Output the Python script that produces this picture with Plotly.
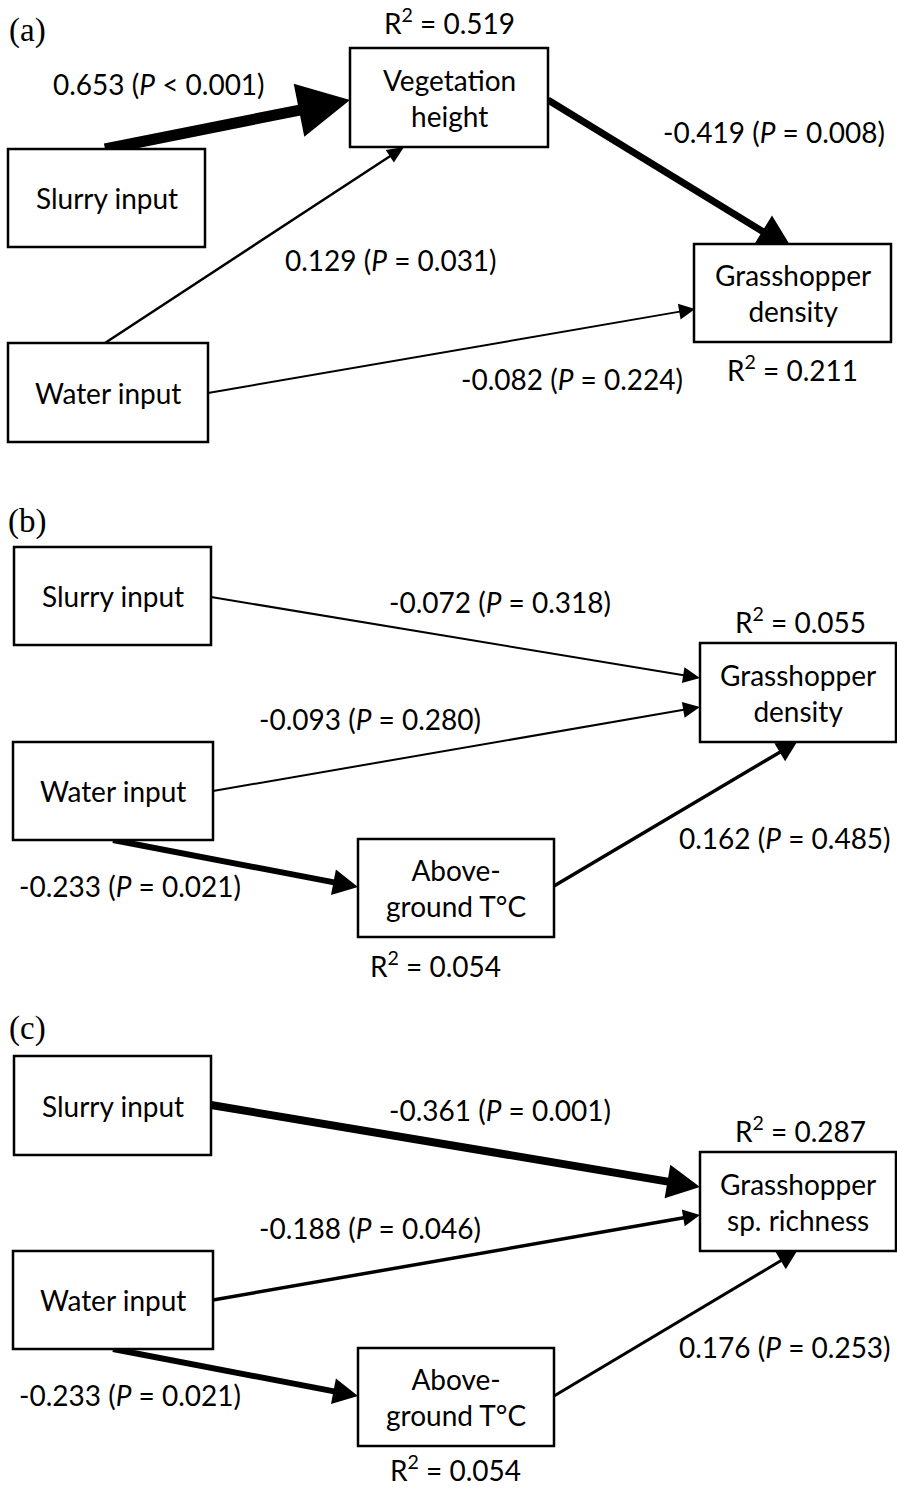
import plotly.graph_objects as go
import numpy as np

W, H = 897, 1489
FONT = "Lato"
FS = 28

# ---------------- data ----------------
panel_tags = ["(a)", "(b)", "(c)"]

# panel (a)
a_nodes = ["Slurry input", "Water input", "Vegetation<br>height", "Grasshopper<br>density"]
a_r2 = [None, None, 0.519, 0.211]
a_src = [0, 1, 2, 1]
a_dst = [2, 2, 3, 3]
a_coef = [0.653, 0.129, -0.419, -0.082]
a_pval = ["< 0.001", "= 0.031", "= 0.008", "= 0.224"]

# panel (b)
b_nodes = ["Slurry input", "Water input", "Grasshopper<br>density", "Above-<br>ground T°C"]
b_r2 = [None, None, 0.055, 0.054]
b_src = [0, 1, 1, 3]
b_dst = [2, 2, 3, 2]
b_coef = [-0.072, -0.093, -0.233, 0.162]
b_pval = ["= 0.318", "= 0.280", "= 0.021", "= 0.485"]

# panel (c)
c_nodes = ["Slurry input", "Water input", "Grasshopper<br>sp. richness", "Above-<br>ground T°C"]
c_r2 = [None, None, 0.287, 0.054]
c_src = [0, 1, 1, 3]
c_dst = [2, 2, 3, 2]
c_coef = [-0.361, -0.188, -0.233, 0.176]
c_pval = ["= 0.001", "= 0.046", "= 0.021", "= 0.253"]

# ---------------- layout (pixel positions, styles) ----------------
tag_pos = [(27, 30), (27, 521), (27, 1028)]

# boxes: x0, x1, y0, y1
a_box = [(8, 205, 149, 247), (8, 208, 343, 442), (350, 548, 48, 147), (694, 891, 244, 342)]
b_box = [(14, 211, 547, 645), (13, 213, 742, 840), (700, 896, 643, 742), (358, 554, 839, 937)]
c_box = [(14, 211, 1056, 1155), (13, 213, 1251, 1349), (700, 896, 1152, 1251), (358, 554, 1348, 1446)]

# arrow geometry: start, end, shaft width, head length, head width
a_arrow = [((105, 149), (350, 100), 11, 52, 54),
           ((105, 343), (404, 147), 2.5, 17, 15),
           ((548, 100), (793, 250), 7, 36, 37),
           ((208, 393), (695, 309), 2, 16, 16)]
b_arrow = [((211, 597), (700, 678), 2, 17, 16),
           ((213, 791), (700, 707), 2, 17, 16),
           ((113, 840), (358, 887), 6, 25, 26),
           ((554, 886), (797, 742), 3.5, 20, 21)]
c_arrow = [((211, 1105), (700, 1187), 8, 33, 34),
           ((213, 1300), (700, 1215), 3.5, 17, 17),
           ((113, 1349), (358, 1396), 6, 25, 26),
           ((554, 1396), (797, 1251), 3, 19, 20)]

# coefficient label centres
a_lab = [(159, 84), (391, 260), (774, 132), (572, 379)]
b_lab = [(500, 602), (370, 719), (130, 886), (785, 838)]
c_lab = [(500, 1110), (370, 1228), (130, 1395), (785, 1347)]

# R2 label centres (per node, None if no label)
a_r2pos = [None, None, (449, 21), (792, 368)]
b_r2pos = [None, None, (800, 620), (435, 964)]
c_r2pos = [None, None, (800, 1129), (455, 1468)]

panels = [
    (a_nodes, a_r2, a_src, a_dst, a_coef, a_pval, a_box, a_arrow, a_lab, a_r2pos),
    (b_nodes, b_r2, b_src, b_dst, b_coef, b_pval, b_box, b_arrow, b_lab, b_r2pos),
    (c_nodes, c_r2, c_src, c_dst, c_coef, c_pval, c_box, c_arrow, c_lab, c_r2pos),
]

shapes = []
annotations = []


def txt(x, y, s, size=FS, family=FONT):
    annotations.append(dict(x=x, y=y, xref="x", yref="y", text=s, showarrow=False,
                            xanchor="center", yanchor="middle",
                            font=dict(family=family, size=size, color="black")))


for (nodes, r2, src, dst, coef, pval, box, arrow, lab, r2pos), tag, tp in zip(panels, panel_tags, tag_pos):
    # arrows
    for k, (p0, p1, w, hl, hw) in enumerate(arrow):
        p0 = np.array(p0, float)
        p1 = np.array(p1, float)
        u = (p1 - p0) / np.linalg.norm(p1 - p0)
        n = np.array([-u[1], u[0]])
        base = p1 - hl * u
        shaft_end = base + 2 * u
        shapes.append(dict(type="line", xref="x", yref="y", x0=p0[0], y0=p0[1],
                           x1=shaft_end[0], y1=shaft_end[1], line=dict(color="black", width=w)))
        c1 = base + hw / 2 * n
        c2 = base - hw / 2 * n
        shapes.append(dict(type="path", xref="x", yref="y",
                           path=f"M {p1[0]:.1f},{p1[1]:.1f} L {c1[0]:.1f},{c1[1]:.1f} L {c2[0]:.1f},{c2[1]:.1f} Z",
                           fillcolor="black", line=dict(width=0)))
        sign = "" if coef[k] >= 0 else "-"
        label = f"{sign}{abs(coef[k]):.3f} (<i>P</i> {pval[k]})"
        txt(lab[k][0], lab[k][1], label)
    # boxes
    for i, nm in enumerate(nodes):
        x0, x1, y0, y1 = box[i]
        shapes.append(dict(type="rect", xref="x", yref="y", x0=x0, x1=x1, y0=y0, y1=y1,
                           fillcolor="white", line=dict(color="black", width=2.5)))
        txt((x0 + x1) / 2, (y0 + y1) / 2, nm)
        if r2[i] is not None:
            txt(r2pos[i][0], r2pos[i][1], f"R<sup>2</sup> = {r2[i]:.3f}")
    txt(tp[0], tp[1], tag, size=33, family="Liberation Serif")

fig = go.Figure()
fig.add_trace(go.Scatter(x=[0, W], y=[0, H], mode="markers", marker=dict(opacity=0),
                         hoverinfo="skip", showlegend=False))
fig.update_layout(
    width=W, height=H, margin=dict(l=0, r=0, t=0, b=0),
    paper_bgcolor="white", plot_bgcolor="white",
    xaxis=dict(range=[0, W], visible=False, fixedrange=True),
    yaxis=dict(range=[H, 0], visible=False, fixedrange=True),
    shapes=shapes, annotations=annotations,
)
fig.write_html("out.html", config={"displayModeBar": False},
               post_script="document.body.style.margin='0';document.body.style.padding='0';document.body.style.overflow='hidden';")
